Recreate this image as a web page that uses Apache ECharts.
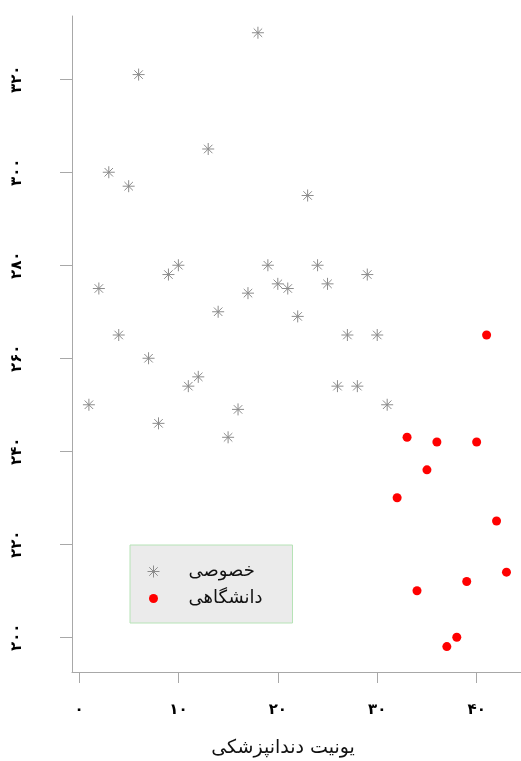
<!DOCTYPE html>
<html>
<head>
<meta charset="utf-8">
<script src="https://cdn.jsdelivr.net/npm/echarts@6/dist/echarts.min.js"></script>
<style>
  html, body { margin: 0; padding: 0; background: #ffffff; }
  #chart { width: 521px; height: 761px; }
</style>
</head>
<body>
<div id="chart"></div>
<script>
// Dental units: private (خصوصی) and university (دانشگاهی) clinics
const privateUnits = [1, 2, 3, 4, 5, 6, 7, 8, 9, 10, 11, 12, 13, 14, 15, 16,
  17, 18, 19, 20, 21, 22, 23, 24, 25, 26, 27, 28, 29, 30, 31];
const privateValues = [250, 275, 300, 265, 297, 321, 260, 246, 278, 280, 254, 256,
  305, 270, 243, 249, 274, 330, 280, 276, 275, 269, 295, 280, 276, 254, 265, 254,
  278, 265, 250];

const universityUnits = [32, 33, 34, 35, 36, 37, 38, 39, 40, 41, 42, 43];
const universityValues = [230, 243, 210, 236, 242, 198, 200, 212, 242, 265, 225, 214];

const seriesNames = ['خصوصی', 'دانشگاهی'];
const xAxisTitle = 'یونیت دندانپزشکی';

const xTicks = [0, 10, 20, 30, 40];
const xTickLabels = ['۰', '۱۰', '۲۰', '۳۰', '۴۰'];
const yTicks = [200, 220, 240, 260, 280, 300, 320];
const yTickLabels = ['۲۰۰', '۲۲۰', '۲۴۰', '۲۶۰', '۲۸۰', '۳۰۰', '۳۲۰'];

// asterisk glyph: a plus and a cross with equal arm lengths
const asteriskPath = 'path://M6 0L6 12M0 6L12 6M1.76 1.76L10.24 10.24M1.76 10.24L10.24 1.76';
// small dot inside a 12x12 frame for the legend
const dotIconPath = 'path://M0 0M12 12M6 1.5A4.5 4.5 0 1 1 6 10.5A4.5 4.5 0 1 1 6 1.5Z';

const axisGray = '#a8a8a8';
const starGray = '#8c8c8c';
const font = 'DejaVu Sans';

function pairs(xs, ys) {
  return xs.map((x, i) => [x, ys[i]]);
}
function tickLabel(ticks, labels) {
  return v => {
    const i = ticks.indexOf(Math.round(v));
    return i >= 0 ? labels[i] : '';
  };
}

const chart = echarts.init(document.getElementById('chart'), null, { renderer: 'canvas' });

chart.setOption({
  animation: false,
  backgroundColor: '#ffffff',
  grid: { left: 72, right: 0, top: 16, bottom: 89, containLabel: false, outerBoundsMode: 'none' },
  xAxis: {
    type: 'value',
    min: -0.7,
    max: 44.46,
    name: xAxisTitle,
    nameLocation: 'middle',
    nameGap: 67,
    nameTextStyle: { fontFamily: font, fontSize: 19, color: '#111', padding: [0, 27, 0, 0] },
    axisLine: { show: true, onZero: false, lineStyle: { color: axisGray, width: 1 } },
    axisTick: { show: true, length: 11, customValues: xTicks, lineStyle: { color: axisGray } },
    axisLabel: {
      customValues: xTicks,
      formatter: tickLabel(xTicks, xTickLabels),
      margin: 31,
      fontFamily: font,
      fontSize: 15,
      fontWeight: 'bold',
      color: '#000'
    },
    splitLine: { show: false }
  },
  yAxis: {
    type: 'value',
    min: 192.53,
    max: 333.6,
    axisLine: { show: true, onZero: false, lineStyle: { color: axisGray, width: 1 } },
    axisTick: { show: true, length: 12, customValues: yTicks, lineStyle: { color: axisGray } },
    axisLabel: {
      customValues: yTicks,
      formatter: tickLabel(yTicks, yTickLabels),
      rotate: 90,
      margin: 47,
      fontFamily: font,
      fontSize: 15,
      fontWeight: 'bold',
      color: '#000'
    },
    splitLine: { show: false }
  },
  legend: {
    orient: 'vertical',
    left: 130,
    top: 545,
    padding: [17.5, 24, 15.5, 17],
    itemWidth: 12,
    itemHeight: 12,
    itemGap: 9,
    backgroundColor: '#ebebeb',
    borderColor: '#b6e3b6',
    borderWidth: 1,
    borderRadius: 0,
    selectedMode: false,
    itemStyle: { borderWidth: 1 },
    textStyle: {
      fontFamily: font,
      fontSize: 18,
      color: '#111',
      lineHeight: 12,
      width: 80,
      padding: [0, 0, 0, 24]
    },
    data: [
      { name: seriesNames[0], icon: asteriskPath, itemStyle: { borderWidth: 1, borderColor: starGray } },
      { name: seriesNames[1], icon: dotIconPath }
    ]
  },
  series: [
    {
      name: seriesNames[0],
      type: 'scatter',
      data: pairs(privateUnits, privateValues),
      symbol: asteriskPath,
      symbolSize: 12,
      itemStyle: { color: 'rgba(0,0,0,0)', borderColor: starGray, borderWidth: 1, opacity: 1 },
      emphasis: { disabled: true }
    },
    {
      name: seriesNames[1],
      type: 'scatter',
      data: pairs(universityUnits, universityValues),
      symbol: 'circle',
      symbolSize: 9,
      itemStyle: { color: '#ff0000', opacity: 1 },
      emphasis: { disabled: true }
    }
  ]
});
</script>
</body>
</html>
